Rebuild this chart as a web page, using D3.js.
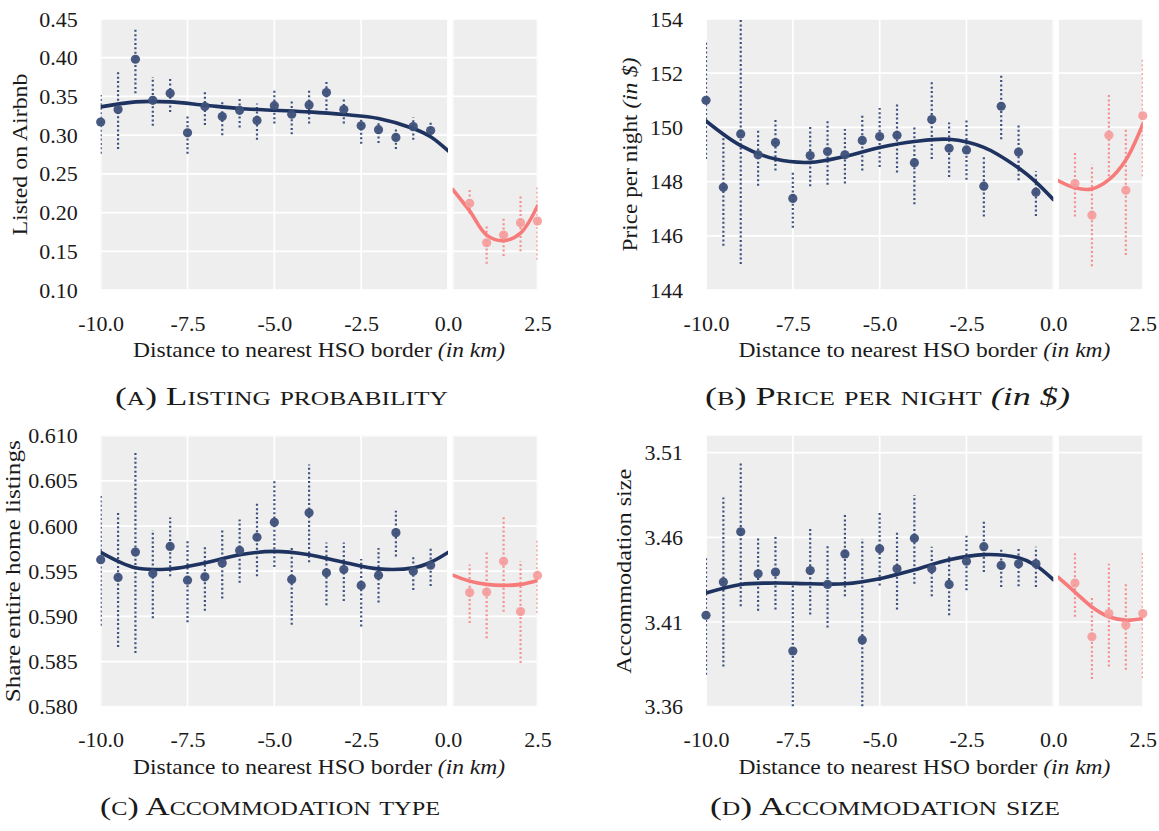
<!DOCTYPE html>
<html>
<head>
<meta charset="utf-8">
<script src="https://cdn.jsdelivr.net/npm/d3@7"></script>
<style>
  body { margin: 0; background: #fff; }
  text { font-family: "Liberation Serif", "Times New Roman", serif; fill: #1a1a1a; }
</style>
</head>
<body>
<svg id="fig" width="1159" height="831"></svg>
<script>
// ---- distance bins (km to nearest HSO border) ----
const binsLeft = [-10, -9.5, -9, -8.5, -8, -7.5, -7, -6.5, -6, -5.5, -5, -4.5, -4, -3.5, -3, -2.5, -2, -1.5, -1, -0.5];
const binsRight = [0.5, 1, 1.5, 2, 2.5];
const fitGridLeft = [-10, -9, -8, -7, -6, -5, -4, -3, -2, -1, -0.5, 0];
const fitGridRight = [0, 0.5, 1, 1.5, 2, 2.5];
const xTicksLeft = [-10, -7.5, -5, -2.5, 0];
const xTicksRight = [2.5];

// ---- (A) listing probability ----
const listingMeanL = [0.317, 0.333, 0.398, 0.345, 0.354, 0.303, 0.337, 0.324, 0.332, 0.319, 0.338, 0.327, 0.339, 0.355, 0.333, 0.312, 0.307, 0.297, 0.311, 0.306];
const listingLowL  = [0.276, 0.282, 0.354, 0.312, 0.330, 0.276, 0.313, 0.300, 0.310, 0.294, 0.315, 0.301, 0.315, 0.332, 0.315, 0.289, 0.290, 0.282, 0.294, 0.302];
const listingHighL = [0.352, 0.383, 0.438, 0.375, 0.375, 0.327, 0.358, 0.345, 0.349, 0.341, 0.360, 0.346, 0.360, 0.372, 0.348, 0.328, 0.317, 0.309, 0.323, 0.319];
const listingFitL  = [0.3365, 0.343, 0.343, 0.3387, 0.3344, 0.3322, 0.330, 0.3266, 0.3215, 0.3086, 0.2979, 0.2798];
const listingMeanR = [0.212, 0.161, 0.171, 0.187, 0.189];
const listingLowR  = [0.198, 0.134, 0.144, 0.150, 0.139];
const listingHighR = [0.231, 0.185, 0.195, 0.221, 0.234];
const listingFitR  = [0.2299, 0.2021, 0.1709, 0.1637, 0.1735, 0.2085];
const listingTicks = [0.10, 0.15, 0.20, 0.25, 0.30, 0.35, 0.40, 0.45];

// ---- (B) price per night ----
const priceMeanL = [151.0, 147.79, 149.76, 148.99, 149.44, 147.38, 148.96, 149.11, 148.99, 149.52, 149.66, 149.71, 148.70, 150.29, 149.23, 149.17, 147.83, 150.78, 149.09, 147.61];
const priceLowL  = [148.83, 145.63, 144.96, 147.85, 148.41, 146.30, 147.83, 147.88, 147.93, 148.41, 148.54, 148.34, 147.16, 148.83, 148.17, 148.07, 146.71, 149.56, 148.05, 146.73];
const priceHighL = [153.13, 149.78, 154.6, 149.88, 150.27, 148.34, 150.02, 150.24, 149.94, 150.45, 150.72, 150.90, 150.05, 151.73, 150.18, 150.27, 148.90, 151.95, 150.09, 148.38];
const priceFitL  = [150.24, 149.33, 148.83, 148.71, 148.93, 149.26, 149.48, 149.56, 149.26, 148.50, 147.98, 147.34];
const priceMeanR = [147.93, 146.76, 149.71, 147.68, 150.43];
const priceLowR  = [146.71, 144.88, 148.20, 145.29, 148.20];
const priceHighR = [149.07, 148.62, 151.27, 149.96, 152.52];
const priceFitR  = [148.04, 147.77, 147.73, 148.07, 148.80, 150.12];
const priceTicks = [144, 146, 148, 150, 152, 154];

// ---- (C) share of entire-home listings ----
const typeMeanL = [0.59628, 0.59431, 0.59712, 0.59474, 0.59774, 0.59401, 0.59438, 0.59591, 0.59730, 0.59876, 0.60041, 0.59409, 0.60146, 0.59482, 0.59518, 0.59343, 0.59456, 0.59927, 0.59500, 0.59566];
const typeLowL  = [0.58897, 0.58660, 0.58594, 0.58978, 0.59445, 0.58934, 0.59062, 0.59197, 0.59372, 0.59445, 0.59547, 0.58907, 0.59599, 0.59124, 0.59171, 0.58889, 0.59153, 0.59664, 0.59292, 0.59336];
const typeHighL = [0.60340, 0.60157, 0.60815, 0.59957, 0.60095, 0.59854, 0.59774, 0.59957, 0.60073, 0.60256, 0.60512, 0.59763, 0.60680, 0.59818, 0.59818, 0.59635, 0.59756, 0.60168, 0.59675, 0.59774];
const typeFitL  = [0.59708, 0.59537, 0.59525, 0.59591, 0.59682, 0.59719, 0.59682, 0.59599, 0.59526, 0.59537, 0.59599, 0.59708];
const typeMeanR = [0.59263, 0.59270, 0.59610, 0.59054, 0.59453];
const typeLowR  = [0.58927, 0.58759, 0.59051, 0.58485, 0.59036];
const typeHighR = [0.59573, 0.59726, 0.60121, 0.59610, 0.59847];
const typeFitR  = [0.59456, 0.59390, 0.59354, 0.59343, 0.59354, 0.59398];
const typeTicks = [0.580, 0.585, 0.590, 0.595, 0.600, 0.605, 0.610];

// ---- (D) accommodation size ----
const sizeMeanL = [3.4140, 3.4336, 3.4633, 3.4385, 3.4395, 3.3929, 3.4404, 3.4322, 3.4502, 3.3994, 3.4532, 3.4414, 3.4594, 3.4414, 3.4322, 3.4459, 3.4545, 3.4434, 3.4444, 3.4444];
const sizeLowL  = [3.3789, 3.3837, 3.4193, 3.4166, 3.4174, 3.3550, 3.4144, 3.4068, 3.4252, 3.3550, 3.4316, 3.4174, 3.4326, 3.4252, 3.4140, 3.4287, 3.4395, 3.4307, 3.4311, 3.4307];
const sizeHighL = [3.4483, 3.4835, 3.5050, 3.4596, 3.4610, 3.4336, 3.4663, 3.4557, 3.4741, 3.4590, 3.4745, 3.4639, 3.4850, 3.4545, 3.4487, 3.4610, 3.4694, 3.4541, 3.4545, 3.4545];
const sizeFitL  = [3.4271, 3.4322, 3.4330, 3.4326, 3.4326, 3.4356, 3.4408, 3.4467, 3.4498, 3.4479, 3.4434, 3.4350];
const sizeMeanR = [3.4330, 3.4013, 3.4150, 3.4082, 3.4150];
const sizeLowR  = [3.4131, 3.3763, 3.3837, 3.3818, 3.3769];
const sizeHighR = [3.4512, 3.4252, 3.4444, 3.4336, 3.4512];
const sizeFitR  = [3.4365, 3.4277, 3.4189, 3.4131, 3.4111, 3.4121];
const sizeTicks = [3.36, 3.41, 3.46, 3.51];

// ---- styling ----
const BLUE_LINE = "#1e3360", BLUE_PT = "#3d5079", BLUE_BAR = "#3d5180";
const RED_LINE = "#f77b7b", RED_PT = "#f59a9a", RED_BAR = "#f4908f";
const PANEL_BG = "#eeeeee";
const TICK_SIZE = 22, TITLE_SIZE = 22;

const locale = d3.formatLocale({ decimal: ".", thousands: ",", grouping: [3], currency: ["$", ""], minus: "-" });
const fmtX = locale.format(".1f");

// panel frame in local coordinates
const frame = { lx0: 100.7, lx1: 448, rx0: 452.7, rx1: 537.5, top: 19, bottom: 290 };

const svg = d3.select("#fig");
let clipId = 0;

function drawPanel(spec) {
  const g = svg.append("g").attr("transform", `translate(${spec.ox},${spec.oy})`);
  const y = d3.scaleLinear().domain(spec.yDomain).range([frame.bottom, frame.top]);
  const xL = d3.scaleLinear().domain([-10, 0]).range([frame.lx0, frame.lx1]);
  const xR = d3.scaleLinear().domain([0, 2.5]).range([frame.rx0, frame.rx1]);

  const facets = [
    { x: xL, grid: xTicksLeft, bins: binsLeft, mean: spec.meanL, low: spec.lowL, high: spec.highL,
      fitX: fitGridLeft, fit: spec.fitL, line: BLUE_LINE, pt: BLUE_PT, bar: BLUE_BAR, ptOpacity: 0.95 },
    { x: xR, grid: [0, 2.5], bins: binsRight, mean: spec.meanR, low: spec.lowR, high: spec.highR,
      fitX: fitGridRight, fit: spec.fitR, line: RED_LINE, pt: RED_PT, bar: RED_BAR, ptOpacity: 0.9 }
  ];

  facets.forEach(f => {
    const [x0, x1] = f.x.range();
    const id = "clip" + (clipId++);
    g.append("clipPath").attr("id", id)
      .append("rect").attr("x", x0).attr("y", frame.top).attr("width", x1 - x0).attr("height", frame.bottom - frame.top);

    g.append("rect").attr("x", x0).attr("y", frame.top)
      .attr("width", x1 - x0).attr("height", frame.bottom - frame.top).attr("fill", PANEL_BG);

    const cg = g.append("g").attr("clip-path", `url(#${id})`);
    cg.selectAll("line.hgrid").data(spec.yTicks).join("line")
      .attr("x1", x0).attr("x2", x1).attr("y1", d => y(d)).attr("y2", d => y(d))
      .attr("stroke", "#fff").attr("stroke-width", 1.7);
    cg.selectAll("line.vgrid").data(f.grid).join("line")
      .attr("x1", d => f.x(d)).attr("x2", d => f.x(d)).attr("y1", frame.top).attr("y2", frame.bottom)
      .attr("stroke", "#fff").attr("stroke-width", 1.7);

    // confidence intervals
    cg.selectAll("line.ci").data(f.bins).join("line")
      .attr("x1", d => f.x(d)).attr("x2", d => f.x(d))
      .attr("y1", (d, i) => y(f.low[i])).attr("y2", (d, i) => y(f.high[i]))
      .attr("stroke", f.bar).attr("stroke-width", 2.2).attr("stroke-dasharray", "2,2.4");

    // fitted polynomial
    const line = d3.line().x((d, i) => f.x(f.fitX[i])).y(d => y(d)).curve(d3.curveCatmullRom.alpha(0.5));
    cg.append("path").datum(f.fit).attr("d", line)
      .attr("fill", "none").attr("stroke", f.line).attr("stroke-width", 3.6).attr("stroke-linecap", "round");

    // binned means
    g.selectAll(null).data(f.bins).join("circle")
      .attr("cx", d => f.x(d)).attr("cy", (d, i) => y(f.mean[i])).attr("r", 4.6)
      .attr("fill", f.pt).attr("fill-opacity", f.ptOpacity);
  });

  // y axis
  const ya = g.append("g").attr("transform", `translate(${frame.lx0},0)`)
    .call(d3.axisLeft(y).tickValues(spec.yTicks).tickFormat(spec.yFmt).tickSize(0).tickPadding(23));
  ya.select(".domain").remove();
  ya.selectAll("text").attr("font-size", TICK_SIZE).attr("font-family", null).attr("fill", "#1a1a1a");

  // x axes for both facets
  [[xL, xTicksLeft], [xR, xTicksRight]].forEach(([sc, tv]) => {
    const xa = g.append("g").attr("transform", `translate(0,${frame.bottom})`)
      .call(d3.axisBottom(sc).tickValues(tv).tickFormat(fmtX).tickSize(0).tickPadding(25));
    xa.select(".domain").remove();
    xa.selectAll("text").attr("font-size", TICK_SIZE).attr("font-family", null).attr("fill", "#1a1a1a");
  });
  svg.selectAll(".tick line").remove();

  // x title
  const xt = g.append("text").attr("x", (frame.lx0 + frame.rx1) / 2).attr("y", 357)
    .attr("text-anchor", "middle").attr("font-size", TITLE_SIZE)
    .attr("textLength", 372).attr("lengthAdjust", "spacingAndGlyphs");
  xt.append("tspan").text("Distance to nearest HSO border ");
  xt.append("tspan").attr("font-style", "italic").text("(in km)");

  // y title
  const yt = g.append("text")
    .attr("transform", `translate(${spec.yTitleX},${(frame.top + frame.bottom) / 2}) rotate(-90)`)
    .attr("text-anchor", "middle").attr("dominant-baseline", "central").attr("font-size", TITLE_SIZE)
    .attr("textLength", spec.yTitleLen).attr("lengthAdjust", "spacingAndGlyphs");
  spec.yTitle.forEach(p => {
    const t = yt.append("tspan").text(p.t);
    if (p.i) t.attr("font-style", "italic");
  });
}

drawPanel({ ox: 0, oy: 0, yDomain: [0.10, 0.45], yTicks: listingTicks, yFmt: locale.format(".2f"),
  meanL: listingMeanL, lowL: listingLowL, highL: listingHighL, fitL: listingFitL,
  meanR: listingMeanR, lowR: listingLowR, highR: listingHighR, fitR: listingFitR,
  yTitleX: 19, yTitleLen: 162, yTitle: [{ t: "Listed on Airbnb" }] });

drawPanel({ ox: 605.3, oy: 0, yDomain: [144, 154], yTicks: priceTicks, yFmt: locale.format("d"),
  meanL: priceMeanL, lowL: priceLowL, highL: priceHighL, fitL: priceFitL,
  meanR: priceMeanR, lowR: priceLowR, highR: priceHighR, fitR: priceFitR,
  yTitleX: 24, yTitleLen: 194, yTitle: [{ t: "Price per night " }, { t: "(in $)", i: true }] });

drawPanel({ ox: 0, oy: 416.7, yDomain: [0.580, 0.610], yTicks: typeTicks, yFmt: locale.format(".3f"),
  meanL: typeMeanL, lowL: typeLowL, highL: typeHighL, fitL: typeFitL,
  meanR: typeMeanR, lowR: typeLowR, highR: typeHighR, fitR: typeFitR,
  yTitleX: 12, yTitleLen: 262, yTitle: [{ t: "Share entire home listings" }] });

drawPanel({ ox: 605.3, oy: 416.7, yDomain: [3.36, 3.52], yTicks: sizeTicks, yFmt: locale.format(".2f"),
  meanL: sizeMeanL, lowL: sizeLowL, highL: sizeHighL, fitL: sizeFitL,
  meanR: sizeMeanR, lowR: sizeLowR, highR: sizeHighR, fitR: sizeFitR,
  yTitleX: 18, yTitleLen: 205, yTitle: [{ t: "Accommodation size" }] });

// sub-figure captions
const captions = [
  { x: 115, y: 405, w: 333, parts: [{ t: "(a) Listing probability" }] },
  { x: 705, y: 405, w: 365, parts: [{ t: "(b) Price per night " }, { t: "(in $)", i: true }] },
  { x: 100, y: 815, w: 340, parts: [{ t: "(c) Accommodation type" }] },
  { x: 710, y: 815, w: 350, parts: [{ t: "(d) Accommodation size" }] }
];
captions.forEach(c => {
  const t = svg.append("text").attr("x", c.x).attr("y", c.y).attr("font-size", 25)
    .attr("textLength", c.w).attr("lengthAdjust", "spacingAndGlyphs");
  c.parts.forEach(p => {
    const s = t.append("tspan").text(p.t);
    if (p.i) s.attr("font-style", "italic");
    else s.style("font-variant", "small-caps");
  });
});
</script>
</body>
</html>
